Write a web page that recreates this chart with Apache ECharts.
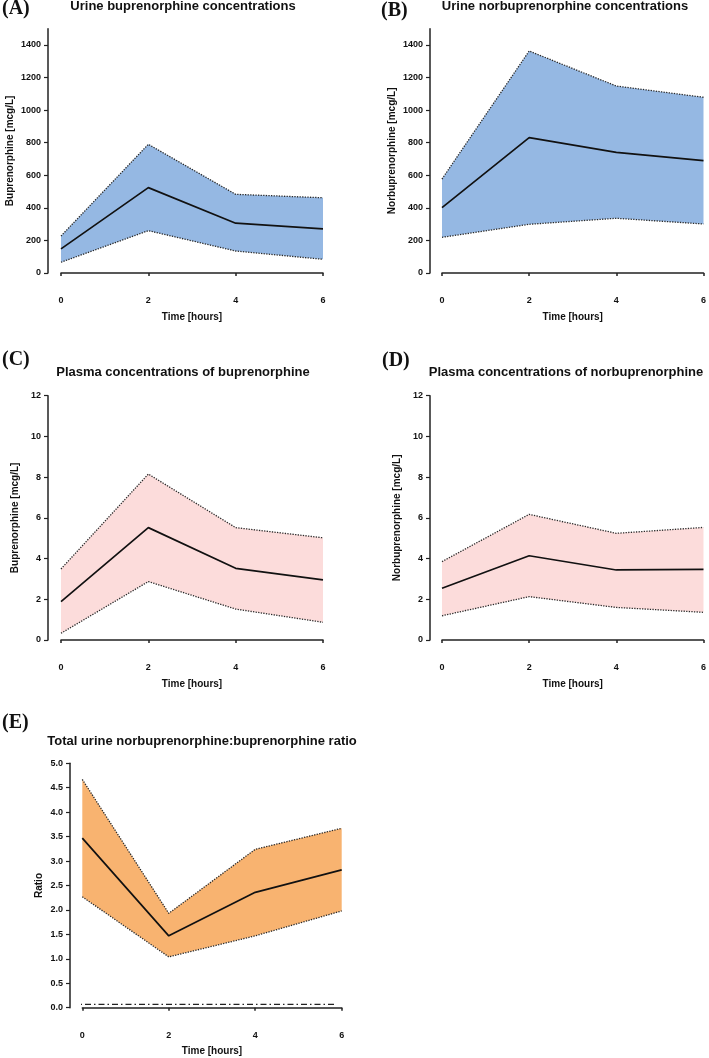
<!DOCTYPE html>
<html>
<head>
<meta charset="utf-8">
<script src="https://cdn.jsdelivr.net/npm/echarts@6/dist/echarts.min.js"></script>
<style>html,body{margin:0;padding:0;background:#fff}#c{width:709px;height:1058px}</style>
</head>
<body>
<div id="c"></div>
<script>
// ---- data ----
const timeHours = ['0', '2', '4', '6'];

const urineBupMean  = [148, 524, 306, 271];
const urineBupUpper = [227, 790, 483, 462];
const urineBupLower = [66, 260, 135, 84];

const urineNorMean  = [401, 831, 741, 690];
const urineNorUpper = [577, 1363, 1148, 1079];
const urineNorLower = [219, 299, 336, 301];

const plasmaBupMean  = [1.88, 5.52, 3.52, 2.95];
const plasmaBupUpper = [3.49, 8.15, 5.52, 5.02];
const plasmaBupLower = [0.33, 2.87, 1.52, 0.87];

const plasmaNorMean  = [2.54, 4.14, 3.44, 3.47];
const plasmaNorUpper = [3.85, 6.17, 5.24, 5.53];
const plasmaNorLower = [1.19, 2.13, 1.60, 1.36];

const ratioMean  = [3.47, 1.47, 2.36, 2.82];
const ratioUpper = [4.67, 1.93, 3.24, 3.67];
const ratioLower = [2.27, 1.04, 1.47, 1.98];

// reference dash-dot line in panel E (x in hours on a hidden value axis)
const refLineX = [-0.25, 5.85];
const refLineY = 0.07;

const urineTicks  = [0, 200, 400, 600, 800, 1000, 1200, 1400];
const plasmaTicks = [0, 2, 4, 6, 8, 10, 12];
const ratioTicks  = [0, 0.5, 1, 1.5, 2, 2.5, 3, 3.5, 4, 4.5, 5];

const panelLetters = ['(A)', '(B)', '(C)', '(D)', '(E)'];
const panelTitles = [
  'Urine buprenorphine concentrations',
  'Urine norbuprenorphine concentrations',
  'Plasma concentrations of buprenorphine',
  'Plasma concentrations of norbuprenorphine',
  'Total urine norbuprenorphine:buprenorphine ratio'
];
const yNames = ['Buprenorphine [mcg/L]', 'Norbuprenorphine [mcg/L]', 'Buprenorphine [mcg/L]', 'Norbuprenorphine [mcg/L]', 'Ratio'];
const xName = 'Time [hours]';

// ---- layout / style ----
const SANS = 'Liberation Sans, Arial, sans-serif';
const SERIF = 'Liberation Serif, Times New Roman, serif';
const BLUE = '#95b8e3';
const PINK = '#fcdcdb';
const ORANGE = '#f8b370';

const panels = [
  {grid: {left: 61, top: 28.7, width: 262, height: 244.3}, yOff: 13, max: 1500, interval: 200, ticks: urineTicks, mean: urineBupMean, up: urineBupUpper, lo: urineBupLower, color: BLUE, nameGap: 33, dec: 0},
  {grid: {left: 442, top: 28.7, width: 262, height: 244.3}, yOff: 12, max: 1500, interval: 200, ticks: urineTicks, mean: urineNorMean, up: urineNorUpper, lo: urineNorLower, color: BLUE, nameGap: 33, dec: 0},
  {grid: {left: 61, top: 395.7, width: 262, height: 244.3}, yOff: 13, max: 12, interval: 2, ticks: plasmaTicks, mean: plasmaBupMean, up: plasmaBupUpper, lo: plasmaBupLower, color: PINK, nameGap: 28, dec: 0},
  {grid: {left: 442, top: 395.7, width: 262, height: 244.3}, yOff: 12, max: 12, interval: 2, ticks: plasmaTicks, mean: plasmaNorMean, up: plasmaNorUpper, lo: plasmaNorLower, color: PINK, nameGap: 28, dec: 0},
  {grid: {left: 82.3, top: 763.3, width: 259.4, height: 244.4}, yOff: 12.3, max: 5, interval: 0.5, ticks: ratioTicks, mean: ratioMean, up: ratioUpper, lo: ratioLower, color: ORANGE, nameGap: 26, dec: 1}
];

const titleCfg = [
  {lx: 2, ly: -1, tx: 183, ty: 0},
  {lx: 381, ly: 1, tx: 565, ty: 0},
  {lx: 2, ly: 350, tx: 183, ty: 366},
  {lx: 382, ly: 351, tx: 566, ty: 366},
  {lx: 2, ly: 713, tx: 202, ty: 735}
];

const AX = '#222';
const DOT = '#2a2a2a';
const grids = [], xAxes = [], yAxes = [], series = [], titles = [];

panels.forEach((p, i) => {
  grids.push(p.grid);
  titles.push({text: panelLetters[i], left: titleCfg[i].lx, top: titleCfg[i].ly, padding: 0,
    textStyle: {fontFamily: SERIF, fontSize: 20, fontWeight: 'bold', color: '#111'}});
  titles.push({text: panelTitles[i], left: titleCfg[i].tx, top: titleCfg[i].ty, padding: 0, textAlign: 'center',
    textStyle: {fontFamily: SANS, fontSize: 13, fontWeight: 'bold', color: '#111'}});

  xAxes.push({
    gridIndex: i, type: 'category', data: timeHours, boundaryGap: false, offset: 14,
    name: xName, nameLocation: 'middle', nameGap: 25,
    nameTextStyle: {fontFamily: SANS, fontSize: 10, fontWeight: 'bold', color: '#111'},
    axisLine: {show: true, lineStyle: {color: AX, width: 1.5}},
    axisTick: {show: true, length: 3, lineStyle: {color: AX, width: 1.5}},
    axisLabel: {fontFamily: SANS, fontSize: 9, fontWeight: 'bold', color: '#111', margin: 9},
    splitLine: {show: false}
  });
  yAxes.push({
    gridIndex: i, type: 'value', min: 0, max: p.max, interval: p.interval, offset: p.yOff,
    name: yNames[i], nameLocation: 'middle', nameGap: p.nameGap,
    nameTextStyle: {fontFamily: SANS, fontSize: 10, fontWeight: 'bold', color: '#111'},
    axisLine: {show: true, lineStyle: {color: AX, width: 1.5}},
    axisTick: {show: true, length: 4, lineStyle: {color: AX, width: 1.2}, customValues: p.ticks},
    axisLabel: {fontFamily: SANS, fontSize: 9, fontWeight: 'bold', color: '#111', margin: 7, customValues: p.ticks,
      formatter: v => v.toFixed(p.dec)},
    splitLine: {show: false}
  });

  const stack = 'band' + i;
  series.push({
    type: 'line', xAxisIndex: i, yAxisIndex: i, stack: stack, symbol: 'none', silent: true,
    data: p.lo.slice(),
    lineStyle: {color: DOT, width: 1.3, type: [1.3, 1.3]}, z: 3
  });
  series.push({
    type: 'line', xAxisIndex: i, yAxisIndex: i, stack: stack, symbol: 'none', silent: true,
    data: p.up.map((u, k) => u - p.lo[k]),
    lineStyle: {color: DOT, width: 1.3, type: [1.3, 1.3]},
    areaStyle: {color: p.color, opacity: 1}, z: 2
  });
  series.push({
    type: 'line', xAxisIndex: i, yAxisIndex: i, symbol: 'none', silent: true,
    data: p.mean.slice(),
    lineStyle: {color: '#111', width: 1.7}, z: 4
  });
});

// hidden value x-axis over panel E for the reference line
grids.push({left: 82.3, top: 763.3, width: 259.4, height: 244.4});
xAxes.push({gridIndex: 5, type: 'value', min: 0, max: 6, show: false});
yAxes.push({gridIndex: 5, type: 'value', min: 0, max: 5, show: false});
series.push({
  type: 'line', xAxisIndex: 5, yAxisIndex: 5, symbol: 'none', silent: true, clip: false,
  data: refLineX.map(x => [x, refLineY]),
  lineStyle: {color: '#222', width: 1.3, type: [6, 3, 1.5, 3]}, z: 5
});

const chart = echarts.init(document.getElementById('c'), null, {renderer: 'canvas'});
chart.setOption({
  animation: false,
  backgroundColor: '#fff',
  title: titles,
  grid: grids,
  xAxis: xAxes,
  yAxis: yAxes,
  series: series
});
</script>
</body>
</html>
